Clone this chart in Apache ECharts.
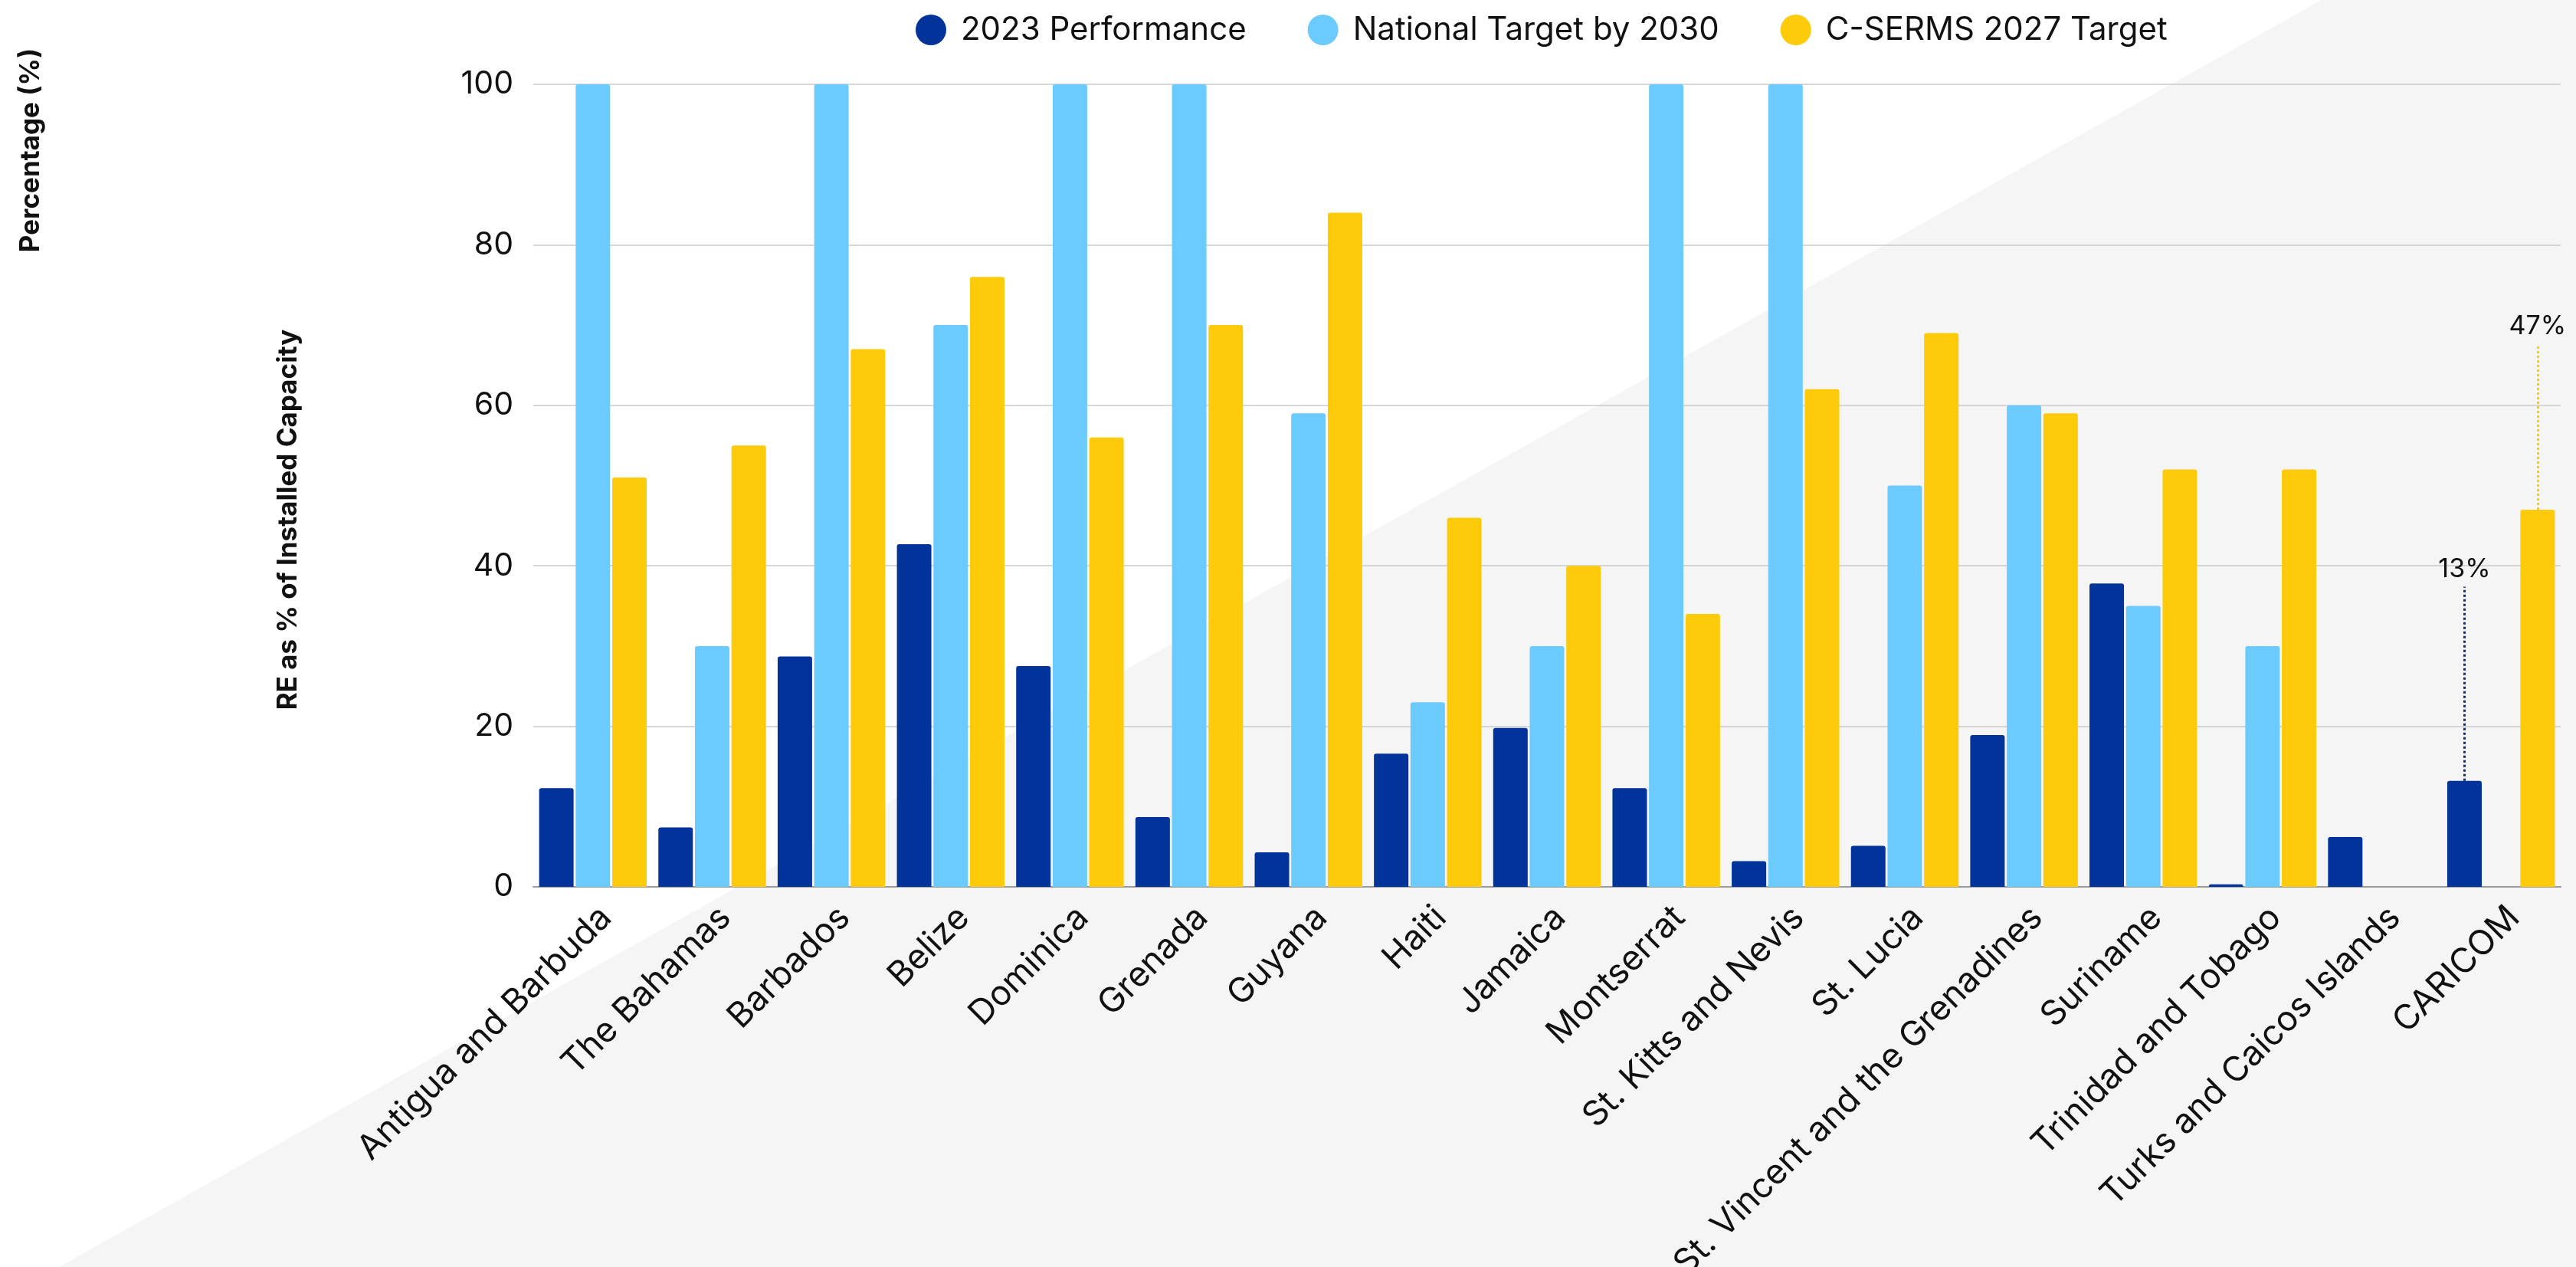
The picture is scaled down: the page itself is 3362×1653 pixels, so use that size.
<!DOCTYPE html>
<html>
<head>
<meta charset="utf-8">
<script src="https://cdn.jsdelivr.net/npm/echarts@6/dist/echarts.min.js"></script>
<style>
  html, body { margin: 0; padding: 0; background: #ffffff; }
  #chart { width: 3362px; height: 1653px; }
</style>
</head>
<body>
<div id="chart"></div>
<script>
const categories = ['Antigua and Barbuda', 'The Bahamas', 'Barbados', 'Belize', 'Dominica', 'Grenada', 'Guyana', 'Haiti', 'Jamaica', 'Montserrat', 'St. Kitts and Nevis', 'St. Lucia', 'St. Vincent and the Grenadines', 'Suriname', 'Trinidad and Tobago', 'Turks and Caicos Islands', 'CARICOM'];
const seriesNames = ['2023 Performance', 'National Target by 2030', 'C-SERMS 2027 Target'];
const perf2023 = [12.3, 7.4, 28.7, 42.7, 27.5, 8.7, 4.3, 16.6, 19.8, 12.3, 3.2, 5.1, 18.9, 37.8, 0.3, 6.2, 13.2];
const national2030 = [100, 30, 100, 70, 100, 100, 59, 23, 30, 100, 100, 50, 60, 35, 30, null, null];
const cserms2027 = [51, 55, 67, 76, 56, 70, 84, 46, 40, 34, 62, 69, 59, 52, 52, null, 47];
const yTicks = { min: 0, max: 100, interval: 20 };
const caricomLabels = ['13%', '47%'];

const FONT = 'Inter, "Open Sans", sans-serif';
const colors = ['#01339A', '#6CCBFE', '#FDCB09'];

const chart = echarts.init(document.getElementById('chart'), null, { renderer: 'canvas' });

const barBase = {
  type: 'bar',
  barWidth: 45,
  barGap: '6%'
};

const option = {
  backgroundColor: '#ffffff',
  animation: false,
  textStyle: { fontFamily: FONT },
  graphic: {
    elements: [
      {
        type: 'polygon',
        z: -100,
        silent: true,
        shape: { points: [[77, 1653], [3030, 0], [3362, 0], [3362, 1653]] },
        style: { fill: '#f5f5f5' }
      },
      {
        type: 'text',
        x: 40, y: 196,
        rotation: Math.PI / 2,
        style: { text: 'Percentage (%)', font: 'bold 35px ' + FONT, fill: '#111', align: 'center', verticalAlign: 'middle' }
      },
      {
        type: 'text',
        x: 376, y: 678,
        rotation: Math.PI / 2,
        style: { text: 'RE as % of Installed Capacity', font: 'bold 35px ' + FONT, fill: '#111', align: 'center', verticalAlign: 'middle' }
      }
    ]
  },
  legend: {
    top: 13,
    left: 1190,
    icon: 'circle',
    itemWidth: 40,
    itemHeight: 40,
    itemGap: 80,
    textStyle: { fontSize: 42, color: '#111', fontFamily: FONT, padding: [0, 0, 0, 14] },
    data: seriesNames
  },
  grid: { left: 696, right: 20, top: 110, bottom: 496, containLabel: false, outerBoundsMode: 'none' },
  xAxis: {
    type: 'category',
    data: categories,
    axisLine: { show: true, lineStyle: { color: '#9a9a9a', width: 2 } },
    axisTick: { show: false },
    axisLabel: { interval: 0, rotate: 45, fontSize: 45, color: '#111', margin: 50, padding: [0, -24, 0, 0], fontFamily: FONT }
  },
  yAxis: {
    type: 'value',
    min: yTicks.min,
    max: yTicks.max,
    interval: yTicks.interval,
    axisLine: { show: false },
    axisTick: { show: false },
    axisLabel: { fontSize: 41, color: '#111', margin: 26, fontFamily: FONT },
    splitLine: { lineStyle: { color: '#cacaca', width: 1.5 } }
  },
  series: [
    Object.assign({}, barBase, {
      name: seriesNames[0], data: perf2023, itemStyle: { color: colors[0], borderRadius: [3, 3, 0, 0] },
      markLine: {
        silent: true, symbol: 'none', animation: false,
        lineStyle: { type: 'dotted', color: '#0a2a7a', width: 3 },
        label: { show: true, position: 'end', formatter: caricomLabels[0], fontSize: 34, color: '#111', fontFamily: FONT, distance: 6 },
        data: [[{ coord: ['CARICOM', 13.2] }, { coord: ['CARICOM', 37.4] }]]
      }
    }),
    Object.assign({}, barBase, {
      name: seriesNames[1], data: national2030, itemStyle: { color: colors[1], borderRadius: [3, 3, 0, 0] }
    }),
    Object.assign({}, barBase, {
      name: seriesNames[2], data: cserms2027, itemStyle: { color: colors[2], borderRadius: [3, 3, 0, 0] },
      markLine: {
        silent: true, symbol: 'none', animation: false,
        lineStyle: { type: 'dotted', color: '#FDCB09', width: 3 },
        label: { show: true, position: 'end', formatter: caricomLabels[1], fontSize: 34, color: '#111', fontFamily: FONT, distance: 6 },
        data: [[{ coord: ['CARICOM', 47] }, { coord: ['CARICOM', 67.6] }]]
      }
    })
  ]
};

chart.setOption(option);
</script>
</body>
</html>
